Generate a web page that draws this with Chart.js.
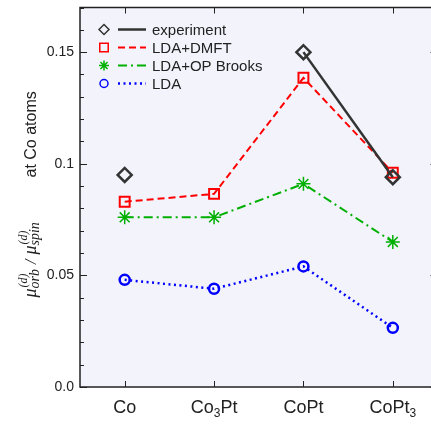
<!DOCTYPE html>
<html>
<head>
<meta charset="utf-8">
<script src="https://cdn.jsdelivr.net/npm/chart.js@4/dist/chart.umd.min.js"></script>
<style>
    html, body { margin: 0; padding: 0; background: #fff; overflow: hidden; }
    #wrap { position: relative; width: 431px; height: 424px; overflow: hidden; }
    /* points add ~9.5px of padding around the plot, so the canvas is a bit
       larger than the page and nudged up to keep the frame where it belongs */
    #chart { position: absolute; left: 0; top: -2px; display: block; width: 447px; height: 426px; }
</style>
</head>
<body>
<div id="wrap"><canvas id="chart" width="447" height="426"></canvas></div>
<script>
const compounds = ['Co', 'Co3Pt', 'CoPt', 'CoPt3'];
// same names split into normal / subscript runs for the axis labels
const compoundParts = [
    [['Co', false]],
    [['Co', false], ['3', true], ['Pt', false]],
    [['CoPt', false]],
    [['CoPt', false], ['3', true]]
];
const experiment = [0.095, null, 0.150, 0.094];
const ldaDmft = [0.083, 0.0865, 0.1385, 0.096];
const ldaOpBrooks = [0.076, 0.076, 0.091, 0.065];
const lda = [0.048, 0.044, 0.054, 0.0265];
const yMax = 0.17;
const yStep = 0.01;
const legendNames = ['experiment', 'LDA+DMFT', 'LDA+OP Brooks', 'LDA'];

const SANS = '"Liberation Sans", Arial, Helvetica, sans-serif';
const SERIF = '"Liberation Serif", "Times New Roman", serif';
const INK = '#222';

function isMajor(v) {
    return Math.round(v * 100) % 5 === 0;
}

function noPadding(scale) {
    scale.paddingTop = 0;
    scale.paddingBottom = 0;
    scale.paddingLeft = 0;
    scale.paddingRight = 0;
}

const framePlugin = {
    id: 'frame',
    beforeDraw(chart) {
        const { ctx, chartArea: a } = chart;
        ctx.save();
        ctx.fillStyle = '#f3f3fc';
        ctx.fillRect(a.left, a.top, a.right - a.left, a.bottom - a.top);
        ctx.restore();
    },
    afterDraw(chart) {
        const { ctx, chartArea: a, scales } = chart;
        ctx.save();
        ctx.strokeStyle = INK;
        ctx.lineWidth = 1.5;
        ctx.strokeRect(a.left, a.top, a.right - a.left, a.bottom - a.top);

        // inward ticks on left and right
        ctx.lineWidth = 1;
        scales.y.ticks.forEach(t => {
            const py = Math.round(scales.y.getPixelForValue(t.value)) + 0.5;
            const len = isMajor(t.value) ? 7 : 4;
            ctx.beginPath();
            ctx.moveTo(a.left, py); ctx.lineTo(a.left + len, py);
            ctx.moveTo(a.right, py); ctx.lineTo(a.right - len, py);
            ctx.stroke();
        });
        // inward ticks on top and bottom
        compounds.forEach((c, i) => {
            const px = Math.round(scales.x.getPixelForValue(i)) + 0.5;
            ctx.beginPath();
            ctx.moveTo(px, a.bottom); ctx.lineTo(px, a.bottom - 6);
            ctx.moveTo(px, a.top); ctx.lineTo(px, a.top + 6);
            ctx.stroke();
        });

        // category labels with subscripts
        ctx.fillStyle = INK;
        ctx.textBaseline = 'alphabetic';
        ctx.textAlign = 'left';
        const base = a.bottom + 26;
        compoundParts.forEach((parts, i) => {
            let w = 0;
            parts.forEach(([s, sub]) => {
                ctx.font = (sub ? '12px ' : '18px ') + SANS;
                w += ctx.measureText(s).width;
            });
            let x = scales.x.getPixelForValue(i) - w / 2;
            parts.forEach(([s, sub]) => {
                ctx.font = (sub ? '12px ' : '18px ') + SANS;
                ctx.fillText(s, x, sub ? base + 4 : base);
                x += ctx.measureText(s).width;
            });
        });

        drawYTitle(ctx, a);
        drawLegend(chart, a);
        ctx.restore();
    }
};

function drawYTitle(ctx, a) {
    ctx.save();
    ctx.fillStyle = INK;
    ctx.textAlign = 'left';
    ctx.textBaseline = 'alphabetic';
    ctx.translate(a.left - 44, a.top + 290);
    ctx.rotate(-Math.PI / 2);
    let u = 0;
    const mu = sub => {
        ctx.font = 'italic 18px ' + SERIF;
        ctx.fillText('\u03bc', u, 0);
        const w = ctx.measureText('\u03bc').width;
        ctx.font = 'italic 14px ' + SERIF;
        ctx.fillText(sub, u + w, 3);
        const ws = ctx.measureText(sub).width;
        ctx.font = 'italic 12px ' + SERIF;
        ctx.fillText('(d)', u + w + 1, -9);
        const wd = ctx.measureText('(d)').width + 1;
        u += w + Math.max(ws, wd);
    };
    mu('orb');
    ctx.font = 'italic 16px ' + SERIF;
    u += 5;
    ctx.fillText('/', u, 0);
    u += ctx.measureText('/').width + 5;
    mu('spin');
    ctx.restore();

    ctx.save();
    ctx.fillStyle = INK;
    ctx.textAlign = 'left';
    ctx.textBaseline = 'alphabetic';
    ctx.translate(a.left - 44, a.top + 170);
    ctx.rotate(-Math.PI / 2);
    ctx.font = '16px ' + SANS;
    ctx.fillText('at Co atoms', 0, 0);
    ctx.restore();
}

function drawLegend(chart, a) {
    const ctx = chart.ctx;
    chart.data.datasets.forEach((ds, i) => {
        const y = a.top + 22 + i * 18;
        const x0 = a.left;
        ctx.save();
        ctx.strokeStyle = ds.borderColor;
        ctx.fillStyle = 'rgba(0,0,0,0)';
        ctx.lineWidth = 1.5;
        Chart.helpers.drawPoint(ctx, {
            pointStyle: ds.pointStyle,
            radius: ds.legendRadius,
            rotation: 0,
            borderWidth: 1.5
        }, x0 + 24, y);
        ctx.beginPath();
        ctx.lineWidth = ds.borderWidth;
        ctx.setLineDash(ds.borderDash || []);
        ctx.moveTo(x0 + 38, y);
        ctx.lineTo(x0 + 66, y);
        ctx.stroke();
        ctx.setLineDash([]);
        ctx.fillStyle = INK;
        ctx.font = '15px ' + SANS;
        ctx.textBaseline = 'middle';
        ctx.textAlign = 'left';
        ctx.fillText(legendNames[i], x0 + 72, y + 1);
        ctx.restore();
    });
}

new Chart(document.getElementById('chart'), {
    type: 'line',
    data: {
        labels: compounds,
        datasets: [
            {
                label: legendNames[0],
                data: experiment,
                borderColor: '#333',
                borderWidth: 2.5,
                pointStyle: 'rectRot',
                pointRadius: 7,
                pointBorderWidth: 2.5,
                legendRadius: 5,
                backgroundColor: 'rgba(0,0,0,0)',
                spanGaps: false
            },
            {
                label: legendNames[1],
                data: ldaDmft,
                borderColor: '#ff0000',
                borderWidth: 2,
                borderDash: [7, 4],
                pointStyle: 'rect',
                pointRadius: 7,
                pointBorderWidth: 2,
                legendRadius: 6,
                backgroundColor: 'rgba(0,0,0,0)'
            },
            {
                label: legendNames[2],
                data: ldaOpBrooks,
                borderColor: '#00b000',
                borderWidth: 2,
                borderDash: [9, 4, 2, 4],
                pointStyle: 'star',
                pointRadius: 7,
                pointBorderWidth: 1.5,
                legendRadius: 5,
                backgroundColor: 'rgba(0,0,0,0)'
            },
            {
                label: legendNames[3],
                data: lda,
                borderColor: '#0000ff',
                borderWidth: 2.5,
                borderDash: [2, 3.5],
                pointStyle: 'circle',
                pointRadius: 5,
                pointBorderWidth: 2.5,
                legendRadius: 4,
                backgroundColor: 'rgba(0,0,0,0)'
            }
        ]
    },
    options: {
        responsive: false,
        animation: false,
        devicePixelRatio: 1,
        layout: { padding: { top: 8, right: 3, left: 0, bottom: 0 } },
        plugins: {
            legend: { display: false },
            tooltip: { enabled: false },
            title: { display: false }
        },
        elements: { line: { tension: 0 } },
        scales: {
            x: {
                type: 'category',
                offset: true,
                grid: { display: false, drawTicks: false },
                border: { display: false },
                ticks: { display: false },
                afterFit(scale) {
                    scale.height = 37;
                    noPadding(scale);
                }
            },
            y: {
                min: 0,
                max: yMax,
                grid: { display: false, drawTicks: false },
                border: { display: false },
                ticks: {
                    stepSize: yStep,
                    autoSkip: false,
                    padding: 6,
                    color: INK,
                    font: { family: SANS, size: 14 },
                    callback(v) {
                        if (!isMajor(v)) return '';
                        const n = Math.round(v * 100);
                        return n === 0 ? '0.0' : String(n / 100);
                    }
                },
                afterFit(scale) {
                    scale.width = 80;
                    noPadding(scale);
                }
            }
        }
    },
    plugins: [framePlugin]
});
</script>
</body>
</html>
